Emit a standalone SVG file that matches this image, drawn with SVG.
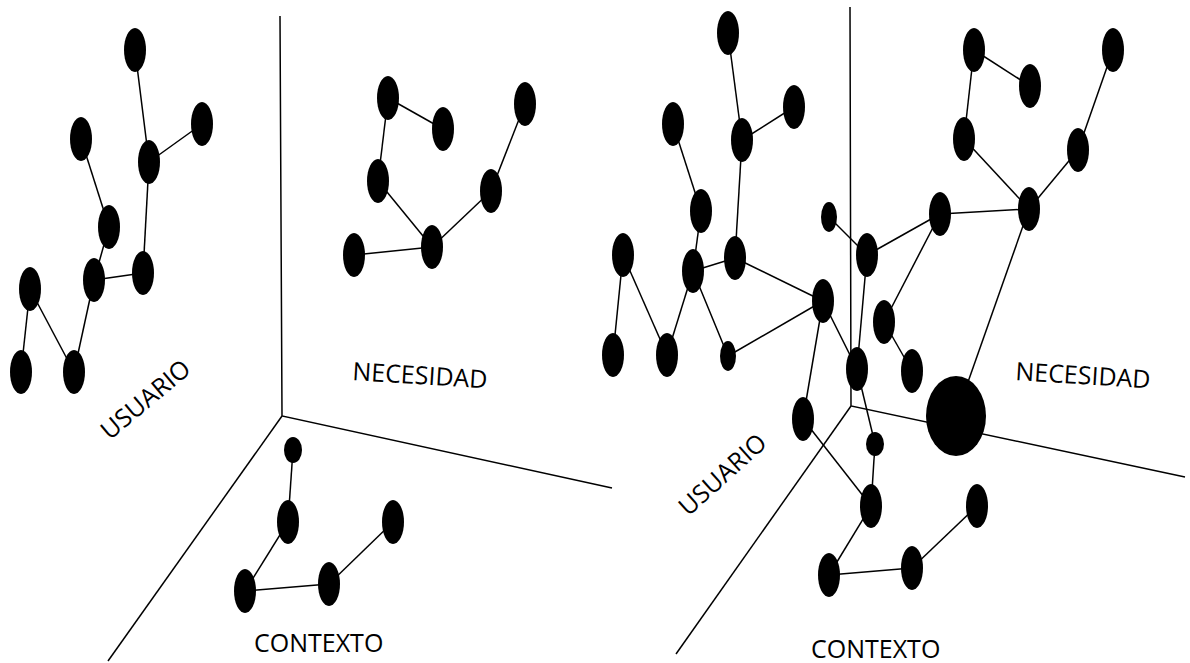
<svg xmlns="http://www.w3.org/2000/svg" width="1190" height="663" viewBox="0 0 1190 663">
<style>
.ax{stroke:#000;stroke-width:1.5;fill:none}
.e line{stroke:#000;stroke-width:1.5}
.n ellipse{fill:#000}
.t{font-family:"Open Sans","Noto Sans","Liberation Sans",sans-serif;font-size:25px;fill:#000}
</style>
<rect width="1190" height="663" fill="#fff"/>
<g id="axes">
<polyline class="ax" points="280,16 282,416 612,488"/>
<line class="ax" x1="282" y1="416" x2="108" y2="661"/>
<polyline class="ax" points="850,7 851,406 1185,477"/>
<line class="ax" x1="851" y1="406" x2="676" y2="654"/>
</g>
<g id="connectors" class="e">
<!-- left usuario -->
<line x1="135" y1="50" x2="149" y2="162"/>
<line x1="149" y1="162" x2="202" y2="124"/>
<line x1="81" y1="139" x2="109" y2="227"/>
<line x1="109" y1="227" x2="94" y2="280"/>
<line x1="149" y1="162" x2="143" y2="273"/>
<line x1="94" y1="280" x2="143" y2="273"/>
<line x1="94" y1="280" x2="74" y2="372"/>
<line x1="30" y1="289" x2="74" y2="372"/>
<line x1="30" y1="289" x2="21" y2="372"/>
<!-- left necesidad -->
<line x1="388" y1="98" x2="443" y2="129"/>
<line x1="388" y1="98" x2="378" y2="181"/>
<line x1="378" y1="181" x2="432" y2="247"/>
<line x1="432" y1="247" x2="354" y2="255"/>
<line x1="432" y1="247" x2="491" y2="191"/>
<line x1="491" y1="191" x2="525" y2="104"/>
<!-- left contexto -->
<line x1="293" y1="450" x2="288" y2="522"/>
<line x1="288" y1="522" x2="245" y2="591"/>
<line x1="245" y1="591" x2="329" y2="584"/>
<line x1="329" y1="584" x2="393" y2="522"/>
<!-- right -->
<line x1="728" y1="33" x2="742" y2="140"/>
<line x1="742" y1="140" x2="794" y2="107"/>
<line x1="673" y1="124" x2="701" y2="211"/>
<line x1="701" y1="211" x2="693" y2="271"/>
<line x1="742" y1="140" x2="735" y2="258"/>
<line x1="693" y1="271" x2="735" y2="258"/>
<line x1="623" y1="255" x2="613" y2="355"/>
<line x1="623" y1="255" x2="667" y2="355"/>
<line x1="693" y1="271" x2="667" y2="355"/>
<line x1="693" y1="271" x2="728" y2="356"/>
<line x1="735" y1="258" x2="823" y2="301"/>
<line x1="728" y1="356" x2="823" y2="301"/>
<line x1="823" y1="301" x2="803" y2="419"/>
<line x1="823" y1="301" x2="857" y2="369"/>
<line x1="829" y1="217" x2="867" y2="255"/>
<line x1="867" y1="255" x2="857" y2="369"/>
<line x1="867" y1="255" x2="940" y2="214"/>
<line x1="940" y1="214" x2="1029" y2="209"/>
<line x1="940" y1="214" x2="884" y2="322"/>
<line x1="884" y1="322" x2="912" y2="371"/>
<line x1="1029" y1="209" x2="956" y2="416"/>
<line x1="1029" y1="209" x2="964" y2="139"/>
<line x1="964" y1="139" x2="974" y2="50"/>
<line x1="974" y1="50" x2="1030" y2="86"/>
<line x1="1029" y1="209" x2="1078" y2="150"/>
<line x1="1078" y1="150" x2="1113" y2="50"/>
<line x1="857" y1="369" x2="875" y2="444"/>
<line x1="875" y1="444" x2="871" y2="506"/>
<line x1="803" y1="419" x2="871" y2="506"/>
<line x1="871" y1="506" x2="829" y2="575"/>
<line x1="829" y1="575" x2="912" y2="568"/>
<line x1="912" y1="568" x2="977" y2="506"/>
</g>
<g id="nodes" class="n">
<g id="left-usuario">
<ellipse cx="135" cy="50" rx="11" ry="22"/>
<ellipse cx="202" cy="124" rx="11" ry="22"/>
<ellipse cx="81" cy="139" rx="11" ry="22"/>
<ellipse cx="149" cy="162" rx="11" ry="22"/>
<ellipse cx="109" cy="227" rx="11" ry="22"/>
<ellipse cx="94" cy="280" rx="11" ry="22"/>
<ellipse cx="143" cy="273" rx="11" ry="22"/>
<ellipse cx="30" cy="289" rx="11" ry="22"/>
<ellipse cx="21" cy="372" rx="11" ry="22"/>
<ellipse cx="74" cy="372" rx="11" ry="22"/>
</g>
<g id="left-necesidad">
<ellipse cx="388" cy="98" rx="11" ry="22"/>
<ellipse cx="443" cy="129" rx="11" ry="22"/>
<ellipse cx="525" cy="104" rx="11" ry="22"/>
<ellipse cx="378" cy="181" rx="11" ry="22"/>
<ellipse cx="491" cy="191" rx="11" ry="22"/>
<ellipse cx="432" cy="247" rx="11" ry="22"/>
<ellipse cx="354" cy="255" rx="11" ry="22"/>
</g>
<g id="left-contexto">
<ellipse cx="293" cy="450" rx="9" ry="13"/>
<ellipse cx="288" cy="522" rx="11" ry="22"/>
<ellipse cx="393" cy="522" rx="11" ry="22"/>
<ellipse cx="245" cy="591" rx="11" ry="22"/>
<ellipse cx="329" cy="584" rx="11" ry="22"/>
</g>
<g id="right-graph">
<ellipse cx="728" cy="33" rx="11" ry="22"/>
<ellipse cx="794" cy="107" rx="11" ry="22"/>
<ellipse cx="673" cy="124" rx="11" ry="22"/>
<ellipse cx="742" cy="140" rx="11" ry="22"/>
<ellipse cx="701" cy="211" rx="11" ry="22"/>
<ellipse cx="829" cy="217" rx="8" ry="15"/>
<ellipse cx="623" cy="255" rx="11" ry="22"/>
<ellipse cx="693" cy="271" rx="11" ry="22"/>
<ellipse cx="735" cy="258" rx="11" ry="22"/>
<ellipse cx="867" cy="255" rx="11" ry="22"/>
<ellipse cx="823" cy="301" rx="11" ry="22"/>
<ellipse cx="613" cy="355" rx="11" ry="22"/>
<ellipse cx="667" cy="355" rx="11" ry="22"/>
<ellipse cx="728" cy="356" rx="8" ry="15"/>
<ellipse cx="857" cy="369" rx="11" ry="22"/>
<ellipse cx="803" cy="419" rx="11" ry="22"/>
<ellipse cx="974" cy="50" rx="11" ry="22"/>
<ellipse cx="1030" cy="86" rx="11" ry="22"/>
<ellipse cx="1113" cy="50" rx="11" ry="22"/>
<ellipse cx="964" cy="139" rx="11" ry="22"/>
<ellipse cx="1078" cy="150" rx="11" ry="22"/>
<ellipse cx="940" cy="214" rx="11" ry="22"/>
<ellipse cx="1029" cy="209" rx="11" ry="22"/>
<ellipse cx="884" cy="322" rx="11" ry="22"/>
<ellipse cx="912" cy="371" rx="11" ry="22"/>
<ellipse cx="956" cy="416" rx="30" ry="40"/>
<ellipse cx="875" cy="444" rx="9" ry="12"/>
<ellipse cx="871" cy="506" rx="11" ry="22"/>
<ellipse cx="977" cy="506" rx="11" ry="22"/>
<ellipse cx="829" cy="575" rx="11" ry="22"/>
<ellipse cx="912" cy="568" rx="11" ry="22"/>
</g>
</g>
<g id="labels" class="t">
<text transform="translate(146,400) rotate(-40)" x="0" y="8" text-anchor="middle">USUARIO</text>
<text transform="translate(352,380) rotate(3.5)">NECESIDAD</text>
<text x="254" y="652">CONTEXTO</text>
<text transform="translate(723,475) rotate(-42)" x="0" y="8" text-anchor="middle">USUARIO</text>
<text transform="translate(1015,380) rotate(3.5)">NECESIDAD</text>
<text x="811" y="658">CONTEXTO</text>
</g>
</svg>
